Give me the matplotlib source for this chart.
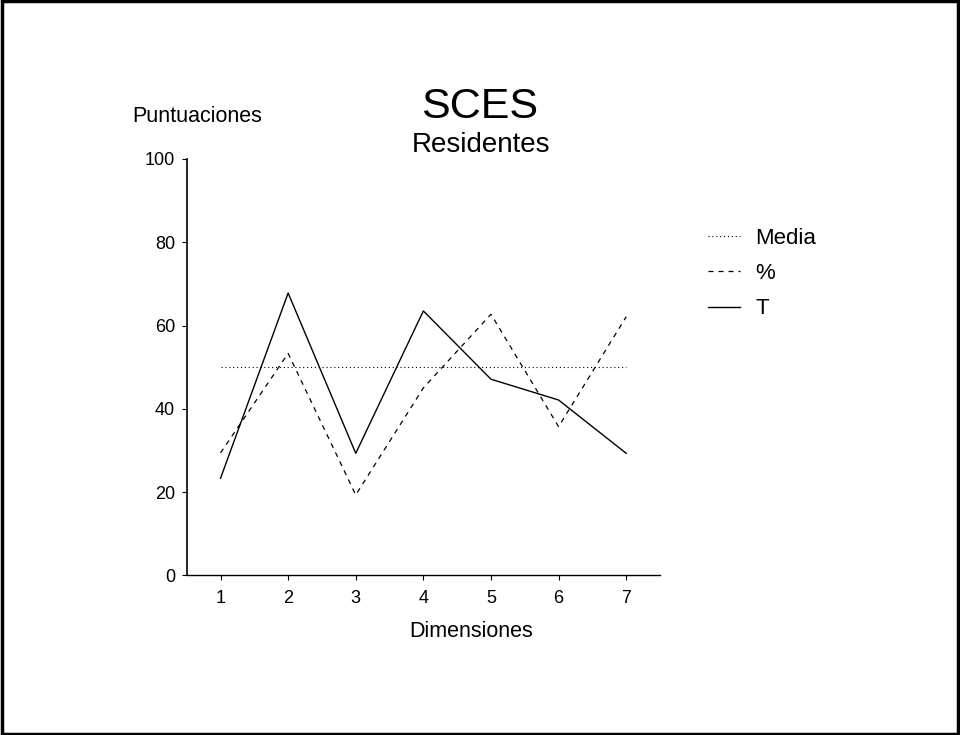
import matplotlib
matplotlib.use("Agg")
import matplotlib.pyplot as plt
from matplotlib.patches import Rectangle

plt.rcParams['font.family'] = ['Liberation Sans', 'DejaVu Sans']

dimensions = [1, 2, 3, 4, 5, 6, 7]
media = [50, 50, 50, 50, 50, 50, 50]
pct = [29.4, 53.3, 19.3, 45.0, 62.7, 35.7, 62.1]
t_scores = [23.3, 67.8, 29.3, 63.5, 47.1, 42.1, 29.3]
yticks = [0, 20, 40, 60, 80, 100]

fig = plt.figure(figsize=(9.6, 7.35), dpi=100)
ax = fig.add_axes([0.1945, 0.2173, 0.493, 0.5664])

l1, = ax.plot(dimensions, media, color='black', lw=0.8, linestyle=(0, (1, 2.5)), label='Media')
l2, = ax.plot(dimensions, pct, color='black', lw=0.9, linestyle=(0, (4, 4)), label='%')
l3, = ax.plot(dimensions, t_scores, color='black', lw=1.0, linestyle='-', label='T')

ax.set_xlim(0.5, 7.5)
ax.set_ylim(0, 100)
ax.set_xticks(dimensions)
ax.set_yticks(yticks)
ax.tick_params(axis='both', labelsize=13, length=3.5, width=0.8, direction='out')
ax.tick_params(axis='y', pad=5)
ax.tick_params(axis='x', pad=7)
for s in ['top', 'right']:
    ax.spines[s].set_visible(False)
ax.spines['left'].set_linewidth(1.2)
ax.spines['bottom'].set_linewidth(1.0)

fig.text(0.5, 0.8395, 'SCES', fontsize=31, ha='center', va='baseline')
fig.text(0.501, 0.793, 'Residentes', fontsize=20, ha='center', va='baseline')
fig.text(0.138, 0.834, 'Puntuaciones', fontsize=15.5, ha='left', va='baseline')
fig.text(0.491, 0.1333, 'Dimensiones', fontsize=15.5, ha='center', va='baseline')

fig.legend(handles=[l1, l2, l3], loc='upper left', bbox_to_anchor=(0.7375, 0.69),
           frameon=False, fontsize=16, handlelength=1.45, handletextpad=0.68,
           labelspacing=0.64, borderpad=0, borderaxespad=0)

fig.patches.append(Rectangle((0.002, 0.002), 0.996, 0.996, transform=fig.transFigure,
                             fill=False, edgecolor='black', lw=2.5))

fig.savefig('out.png', dpi=100, facecolor='white')
